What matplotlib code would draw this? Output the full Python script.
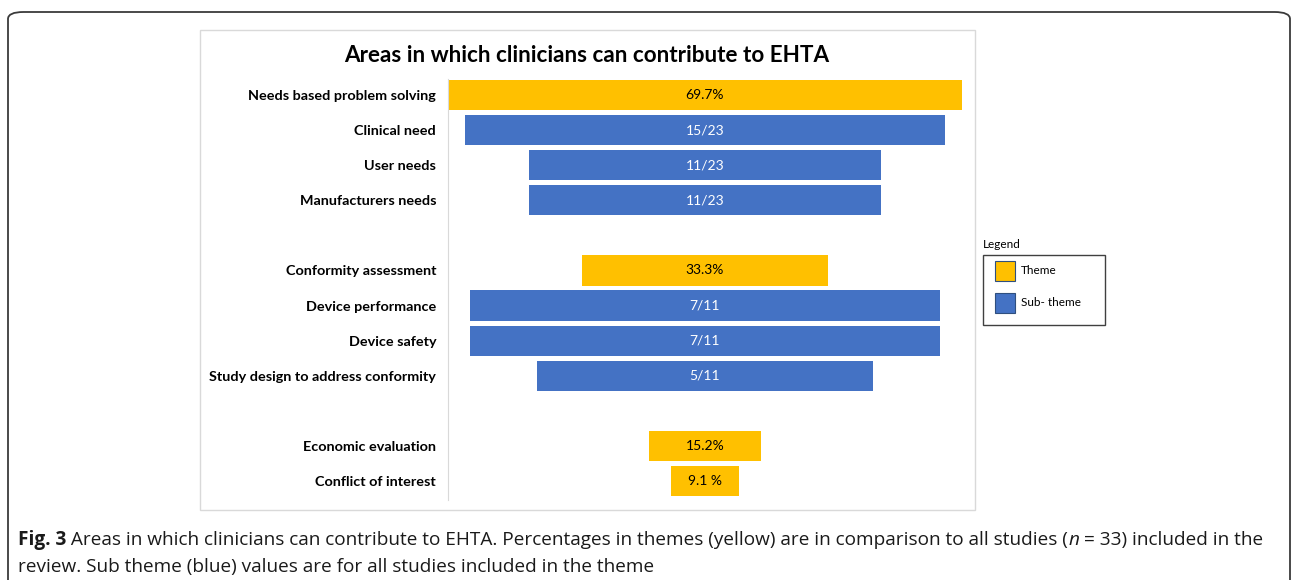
#!/usr/bin/env python3
"""
Funnel-style bar chart: areas in which clinicians can contribute to EHTA.
Bars are centred, width proportional to the share shown in each bar.
"""
import matplotlib
matplotlib.use("Agg")
import matplotlib.pyplot as plt
from matplotlib.patches import Rectangle, FancyBboxPatch

# --- data -----------------------------------------------------------------
categories = [
    "Needs based problem solving", "Clinical need", "User needs", "Manufacturers needs",
    "",
    "Conformity assessment", "Device performance", "Device safety",
    "Study design to address conformity",
    "",
    "Economic evaluation", "Conflict of interest",
]
# share in percent (themes: of all 33 studies, sub themes: of studies in the theme)
values = [69.7, 15 / 23 * 100, 11 / 23 * 100, 11 / 23 * 100,
          None,
          33.3, 7 / 11 * 100, 7 / 11 * 100, 5 / 11 * 100,
          None,
          15.2, 9.1]
labels = ["69.7%", "15/23", "11/23", "11/23", "",
          "33.3%", "7/11", "7/11", "5/11", "",
          "15.2%", "9.1 %"]
kinds = ["theme", "sub", "sub", "sub", None,
         "theme", "sub", "sub", "sub", None,
         "theme", "theme"]

YELLOW = "#FFC000"
BLUE = "#4472C4"
FONT = ["Lato", "DejaVu Sans"]
CAP_FONT = ["Open Sans", "DejaVu Sans"]

W, H = 1292, 580
fig = plt.figure(figsize=(W / 100, H / 100), dpi=100)


def fx(px):
    return px / W


def fy(py):
    return 1 - py / H


# outer rounded frame (page panel)
fig.patches.append(FancyBboxPatch((fx(8), fy(600)), fx(1282), 588 / H,
                                  boxstyle="round,pad=0,rounding_size=0.012",
                                  transform=fig.transFigure, fill=False,
                                  edgecolor="#3a3a3a", lw=1.3))
# chart area border
fig.patches.append(Rectangle((fx(200), fy(510)), fx(775), 480 / H,
                             transform=fig.transFigure, fill=False,
                             edgecolor="#d9d9d9", lw=1.0))

# --- axes -----------------------------------------------------------------
ax_top, ax_bot = 77.5, 498.5
ax = fig.add_axes([fx(448), fy(ax_bot), fx(962 - 448), (ax_bot - ax_top) / H])
half = 69.7 / 2
ax.set_xlim(-half, half)
ax.set_ylim(len(categories) - 0.5, -0.5)

for i, (v, lab, k) in enumerate(zip(values, labels, kinds)):
    if v is None:
        continue
    col = YELLOW if k == "theme" else BLUE
    ax.barh(i, v, left=-v / 2, height=0.86, color=col, edgecolor="none")
    ax.text(0, i, lab, ha="center", va="center", fontsize=10,
            family=FONT, color="black" if k == "theme" else "white")

ax.set_yticks(range(len(categories)))
ax.set_yticklabels(categories, family=FONT, fontweight="bold", fontsize=10.4)
ax.tick_params(axis="y", length=0, pad=8.5)
ax.set_xticks([])
for s in ["top", "right", "bottom"]:
    ax.spines[s].set_visible(False)
ax.spines["left"].set_color("#d9d9d9")
ax.spines["left"].set_bounds(len(categories) - 0.45, -0.45)
ax.set_facecolor("none")

fig.text(fx(587), fy(55), "Areas in which clinicians can contribute to EHTA",
         ha="center", va="center", family=FONT, fontweight="bold", fontsize=16.2)

# --- legend box -----------------------------------------------------------
fig.text(fx(983), fy(245), "Legend", ha="left", va="center", family=FONT, fontsize=8.5)
fig.patches.append(Rectangle((fx(983), fy(325)), fx(122), 70 / H,
                             transform=fig.transFigure, fill=False,
                             edgecolor="#404040", lw=1.0))
for (py, col, txt) in [(271, YELLOW, "Theme"), (303, BLUE, "Sub- theme")]:
    fig.patches.append(Rectangle((fx(995), fy(py + 10)), fx(20), 20 / H,
                                 transform=fig.transFigure, facecolor=col,
                                 edgecolor="#2f4f7f", lw=0.8))
    fig.text(fx(1021), fy(py), txt, ha="left", va="center", family=FONT, fontsize=8.5)

# --- caption (mixed styles chained by rendered extents) -------------------
cap_lines = [
    (545, [("Fig. 3", "bold", "normal"),
           (" Areas in which clinicians can contribute to EHTA. Percentages in themes (yellow) "
            "are in comparison to all studies (", "normal", "normal"),
           ("n", "normal", "italic"),
           (" = 33) included in the", "normal", "normal")]),
    (572, [("review. Sub theme (blue) values are for all studies included in the theme",
            "normal", "normal")]),
]
renderer = fig.canvas.get_renderer()


def draw_caption(fs):
    made, right = [], 0
    for py, parts in cap_lines:
        x = fx(18)
        for txt, wt, st in parts:
            t = fig.text(x, fy(py), txt, ha="left", va="baseline", family=CAP_FONT,
                         fontweight=wt, fontstyle=st, fontsize=fs, color="#1a1a1a")
            made.append(t)
            x = t.get_window_extent(renderer=renderer).x1 / W
        right = max(right, x * W)
    return made, right


# first pass to measure, then fit the first line to end near x=1258
texts, right = draw_caption(12)
for t in texts:
    t.remove()
fs = 12 * (1258 - 18) / (right - 18)
draw_caption(fs)

fig.savefig("out.png", dpi=100)
